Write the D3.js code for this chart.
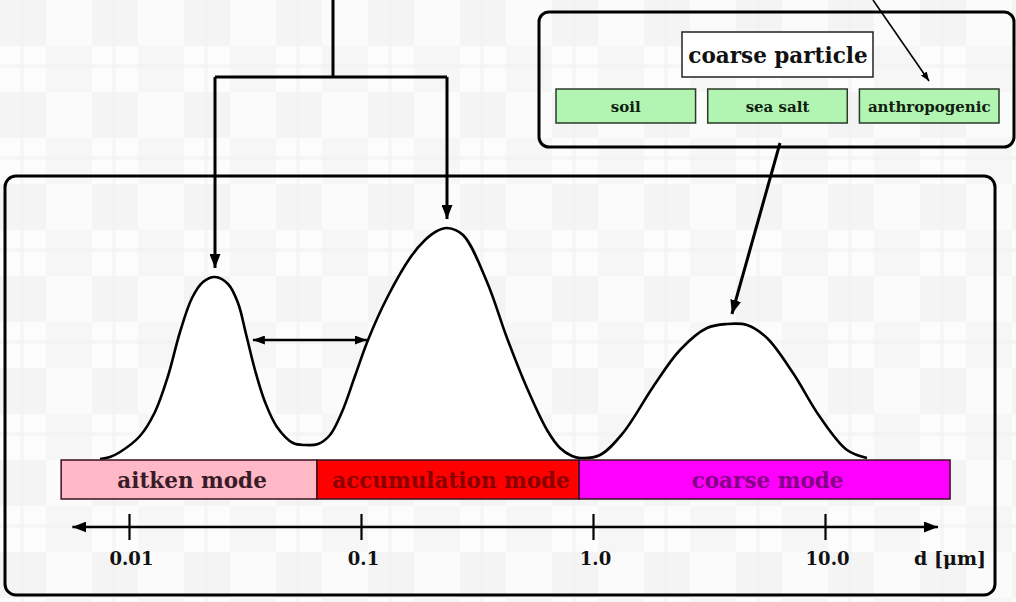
<!DOCTYPE html>
<html>
<head>
<meta charset="utf-8">
<script src="https://cdn.jsdelivr.net/npm/d3@7"></script>
<style>
  html, body { margin: 0; padding: 0; background: #ffffff; }
  svg { display: block; }
</style>
</head>
<body>
<svg id="chart" width="1016" height="602"></svg>
<script>
// Particle diameter (µm) along the size distribution curve
const diameters = [0.00750, 0.00828, 0.00915, 0.01115, 0.01294, 0.01473, 0.01659, 0.01869, 0.02084, 0.02348,
  0.02672, 0.02950, 0.03194, 0.03492, 0.03857, 0.04344, 0.05091, 0.05735, 0.06527, 0.07351,
  0.08280, 0.09421, 0.1072, 0.1294, 0.1626, 0.1888, 0.2127, 0.2348, 0.2752, 0.3492,
  0.4259, 0.5193, 0.6334, 0.7208, 0.8118, 0.8790, 1.072, 1.347, 1.814, 2.371,
  3.100, 3.781, 4.611, 5.623, 7.279, 9.515, 12.44, 15.17];
// Relative number concentration (arbitrary units) at each diameter
const concentration = [1, 3, 8, 24, 48, 84, 128, 162, 178, 183,
  176, 157, 126, 90, 58, 33, 17, 15, 16, 25,
  48, 84, 120, 162, 202, 220, 229, 232, 225, 178,
  122, 72, 30, 12, 4, 2, 5, 27, 73, 110,
  132, 136, 135, 122, 87, 43, 10, 2];

// Size modes and the diameters (µm) where they begin/end
const modeNames = ["aitken mode", "accumulation mode", "coarse mode"];
const modeBounds = [0.0051, 0.0646, 0.871, 34.6];

// Diameter axis
const tickValues = [0.01, 0.1, 1, 10];
const tickLabels = ["0.01", "0.1", "1.0", "10.0"];
const axisExtent = [0.0057, 30.7];
const axisTitle = "d [\u03BCm]";

// Sources of coarse particles
const coarseTitle = "coarse particle";
const sourceNames = ["soil", "sea salt", "anthropogenic"];

// ---------------------------------------------------------------------------
const svg = d3.select("#chart");
const W = 1016, H = 602;
const serif = "'DejaVu Serif', 'Liberation Serif', serif";

const x = d3.scaleLog().domain([0.01, 10]).range([129, 825]);
const y = d3.scaleLinear().domain([0, 232]).range([460, 228]);

const modeFill = ["#ffb8c6", "#ff0000", "#ff00ff"];
const modeText = ["#3a1c28", "#8a0000", "#860086"];

const defs = svg.append("defs");

// faint checkered paper texture
const pat = defs.append("pattern")
  .attr("id", "paper").attr("patternUnits", "userSpaceOnUse")
  .attr("width", 92).attr("height", 92);
pat.append("rect").attr("width", 92).attr("height", 92).attr("fill", "#f9f9f9");
[[0, 0, "#f4f4f4"], [46, 46, "#f6f6f6"], [46, 0, "#fbfbfb"], [0, 46, "#fcfcfc"]].forEach(([px, py, c]) => {
  pat.append("rect").attr("x", px).attr("y", py).attr("width", 46).attr("height", 46).attr("fill", c);
});
pat.append("rect").attr("x", 20).attr("y", 0).attr("width", 4).attr("height", 92).attr("fill", "#efefef").attr("opacity", 0.5);
pat.append("rect").attr("x", 0).attr("y", 64).attr("width", 92).attr("height", 4).attr("fill", "#efefef").attr("opacity", 0.5);

function marker(id, len, wid) {
  defs.append("marker")
    .attr("id", id)
    .attr("viewBox", `0 0 ${len} ${wid}`)
    .attr("refX", len).attr("refY", wid / 2)
    .attr("markerWidth", len).attr("markerHeight", wid)
    .attr("markerUnits", "userSpaceOnUse")
    .attr("orient", "auto-start-reverse")
    .append("path")
    .attr("d", `M0,0 L${len},${wid / 2} L0,${wid} Z`)
    .attr("fill", "#000");
}
marker("headBig", 14, 11);
marker("headMid", 12, 9);
marker("headSmall", 9, 7);

// page background
svg.append("rect").attr("width", W).attr("height", H).attr("fill", "url(#paper)");

// main panel
svg.append("rect")
  .attr("x", 5).attr("y", 176).attr("width", 990).attr("height", 419)
  .attr("rx", 11).attr("ry", 11)
  .attr("fill", "url(#paper)").attr("stroke", "#000").attr("stroke-width", 3);

// size distribution curve
const pts = diameters.map((d, i) => [d, concentration[i]]);
const curve = d3.curveCatmullRom.alpha(0.5);
svg.append("path")
  .datum(pts)
  .attr("d", d3.area().x(d => x(d[0])).y0(y(0)).y1(d => y(d[1])).curve(curve))
  .attr("fill", "#ffffff");
svg.append("path")
  .datum(pts)
  .attr("d", d3.line().x(d => x(d[0])).y(d => y(d[1])).curve(curve))
  .attr("fill", "none").attr("stroke", "#000").attr("stroke-width", 2.6);

// mode bar
const barTop = y(0), barH = 39;
const modes = modeNames.map((n, i) => ({ name: n, d0: modeBounds[i], d1: modeBounds[i + 1], i }));
svg.selectAll("rect.mode").data(modes).join("rect")
  .attr("class", "mode")
  .attr("x", d => x(d.d0)).attr("y", barTop)
  .attr("width", d => x(d.d1) - x(d.d0)).attr("height", barH)
  .attr("fill", d => modeFill[d.i]).attr("stroke", "#3a1020").attr("stroke-width", 1.5);
svg.selectAll("text.mode").data(modes).join("text")
  .attr("class", "mode")
  .attr("x", d => (x(d.d0) + x(d.d1)) / 2 + 3)
  .attr("y", barTop + 28)
  .attr("text-anchor", "middle")
  .attr("font-family", serif).attr("font-weight", "bold").attr("font-size", 21.5)
  .attr("fill", d => modeText[d.i])
  .text(d => d.name);

// diameter axis
const axisY = 527;
svg.append("line")
  .attr("x1", x(axisExtent[0])).attr("x2", x(axisExtent[1]))
  .attr("y1", axisY).attr("y2", axisY)
  .attr("stroke", "#000").attr("stroke-width", 2.6)
  .attr("marker-start", "url(#headBig)").attr("marker-end", "url(#headBig)");
const axisG = svg.append("g").attr("transform", `translate(0,${axisY})`)
  .call(d3.axisBottom(x).tickValues(tickValues).tickFormat((d, i) => tickLabels[i]).tickSize(13));
axisG.select(".domain").remove();
axisG.selectAll(".tick line").attr("y1", -13).attr("y2", 13).attr("stroke", "#000").attr("stroke-width", 2.2);
axisG.selectAll(".tick text")
  .attr("y", 38).attr("dy", 0).attr("dx", 2)
  .attr("font-family", serif).attr("font-weight", "bold").attr("font-size", 18).attr("fill", "#111");
svg.append("text")
  .attr("x", 986).attr("y", axisY + 38).attr("text-anchor", "end")
  .attr("font-family", serif).attr("font-weight", "bold").attr("font-size", 19).attr("fill", "#111")
  .text(axisTitle);

// growth arrow between aitken and accumulation modes
svg.append("line")
  .attr("x1", x(0.0342)).attr("x2", x(0.106)).attr("y1", y(120)).attr("y2", y(120))
  .attr("stroke", "#000").attr("stroke-width", 2.6)
  .attr("marker-start", "url(#headMid)").attr("marker-end", "url(#headMid)");

// bracket pointing to the two fine-particle peaks
const pA = 9, pB = 27, pC = 41;
const bracketY = 77, stemX = 333;
svg.append("path")
  .attr("d", `M${stemX},0 V${bracketY} M${x(diameters[pA])},${bracketY} H${x(diameters[pB])}`)
  .attr("fill", "none").attr("stroke", "#000").attr("stroke-width", 3).attr("stroke-linejoin", "round");
[pA, pB].forEach(p => {
  svg.append("line")
    .attr("x1", x(diameters[p])).attr("x2", x(diameters[p]))
    .attr("y1", bracketY).attr("y2", y(concentration[p]) - 9)
    .attr("stroke", "#000").attr("stroke-width", 3)
    .attr("marker-end", "url(#headBig)");
});

// coarse particle source panel
svg.append("rect")
  .attr("x", 539).attr("y", 12).attr("width", 475).attr("height", 135)
  .attr("rx", 10).attr("ry", 10)
  .attr("fill", "url(#paper)").attr("stroke", "#000").attr("stroke-width", 3);
svg.append("rect")
  .attr("x", 682).attr("y", 32).attr("width", 191).attr("height", 45)
  .attr("fill", "#ffffff").attr("stroke", "#222").attr("stroke-width", 1.5);
svg.append("text")
  .attr("x", 778).attr("y", 63).attr("text-anchor", "middle")
  .attr("font-family", serif).attr("font-weight", "bold").attr("font-size", 21.5).attr("fill", "#111")
  .text(coarseTitle);

const srcX = d3.scaleBand().domain(sourceNames).range([556, 999]).paddingInner(0.08).paddingOuter(0);
svg.selectAll("rect.src").data(sourceNames).join("rect")
  .attr("class", "src")
  .attr("x", d => srcX(d)).attr("y", 89)
  .attr("width", srcX.bandwidth()).attr("height", 34)
  .attr("fill", "#b2f4b2").attr("stroke", "#2a3a2a").attr("stroke-width", 1.5);
svg.selectAll("text.src").data(sourceNames).join("text")
  .attr("class", "src")
  .attr("x", d => srcX(d) + srcX.bandwidth() / 2).attr("y", 112)
  .attr("text-anchor", "middle")
  .attr("font-family", serif).attr("font-weight", "bold").attr("font-size", 15).attr("fill", "#102010")
  .text(d => d);

// thin pointer into the anthropogenic source
svg.append("line")
  .attr("x1", 873).attr("y1", 0).attr("x2", 929).attr("y2", 81)
  .attr("stroke", "#000").attr("stroke-width", 1.6)
  .attr("marker-end", "url(#headSmall)");

// arrow from the source panel to the coarse peak
svg.append("line")
  .attr("x1", 780).attr("y1", 143)
  .attr("x2", x(3.97)).attr("y2", y(concentration[pC]) - 10)
  .attr("stroke", "#000").attr("stroke-width", 3)
  .attr("marker-end", "url(#headBig)");
</script>
</body>
</html>
